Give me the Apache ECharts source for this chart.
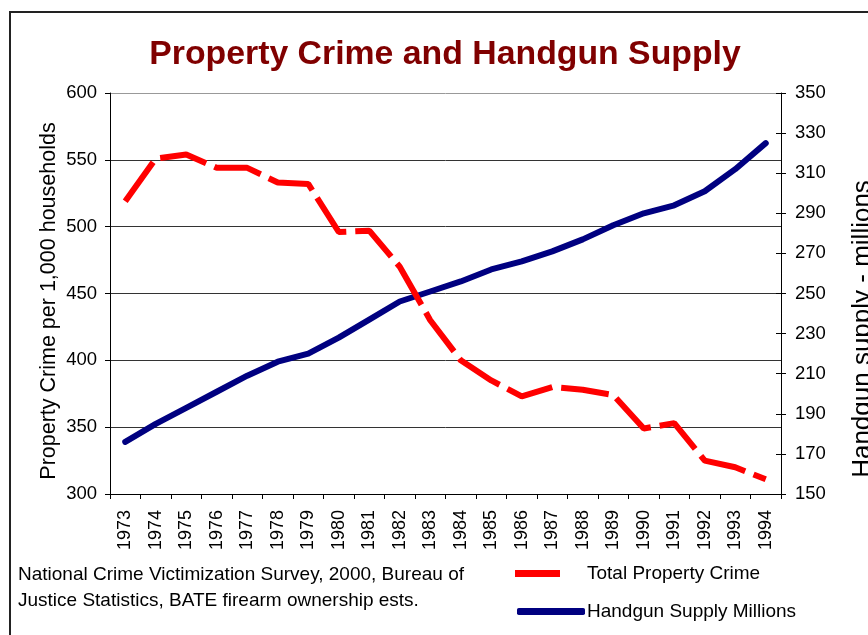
<!DOCTYPE html>
<html>
<head>
<meta charset="utf-8">
<script src="https://cdn.jsdelivr.net/npm/echarts@6/dist/echarts.min.js"></script>
<style>
html,body{margin:0;padding:0;background:#fff;}
#chart{width:868px;height:635px;}
</style>
</head>
<body>
<div id="chart"></div>
<script>
var years = ['1973','1974','1975','1976','1977','1978','1979','1980','1981','1982','1983','1984','1985','1986','1987','1988','1989','1990','1991','1992','1993','1994'];
var propertyCrime = [519, 551, 554, 544, 544, 533, 532, 496, 497, 470, 430, 400, 385, 373, 380, 378, 374, 349, 353, 325, 320, 311];
var handgunSupply = [176, 185, 193, 201, 209, 216, 220, 228, 237, 246, 251, 256, 262, 266, 271, 277, 284, 290, 294, 301, 312, 325];
var seriesNames = ['Total Property Crime', 'Handgun Supply Millions'];
var titleText = 'Property Crime and Handgun Supply';
var leftAxisName = 'Property Crime per 1,000 households';
var rightAxisName = 'Handgun supply - millions';
var sourceNote = 'National Crime Victimization Survey, 2000, Bureau of\nJustice Statistics, BATE firearm ownership ests.';

var FONT = 'Liberation Sans, Arial, sans-serif';
var chart = echarts.init(document.getElementById('chart'), null, {renderer: 'canvas'});
var option = {
  backgroundColor: '#fff',
  animation: false,
  textStyle: {fontFamily: FONT},
  title: {
    text: titleText,
    left: 440,
    textAlign: 'center',
    top: 33,
    textStyle: {fontFamily: FONT, fontSize: 33.8, fontWeight: 'bold', color: '#800000'}
  },
  grid: {left: 110, right: 87, top: 93, bottom: 141, containLabel: false},
  legend: [
    {
      data: [seriesNames[0]],
      left: 515, top: 564, padding: 0,
      icon: 'rect', itemWidth: 45, itemHeight: 7,
      textStyle: {fontFamily: FONT, fontSize: 19, color: '#000', padding: [0, 0, 0, 22]}
    },
    {
      data: [seriesNames[1]],
      left: 517, top: 602, padding: 0,
      icon: 'roundRect', itemWidth: 68, itemHeight: 7,
      textStyle: {fontFamily: FONT, fontSize: 19, color: '#000', padding: [0, 0, 0, -3]}
    }
  ],
  xAxis: {
    type: 'category',
    data: years,
    boundaryGap: true,
    axisLine: {lineStyle: {color: '#000', width: 1}},
    axisTick: {show: true, length: 5, alignWithLabel: false, lineStyle: {color: '#000'}},
    axisLabel: {rotate: 90, margin: 16, fontSize: 18, color: '#000', fontFamily: FONT, interval: 0}
  },
  yAxis: [
    {
      type: 'value', min: 300, max: 600, interval: 50, position: 'left',
      axisLine: {show: true, lineStyle: {color: '#000', width: 1}},
      axisTick: {show: true, length: 5, lineStyle: {color: '#000'}},
      axisLabel: {margin: 13, fontSize: 18.5, color: '#000', fontFamily: FONT},
      splitLine: {show: true, lineStyle: {color: ['#333', '#333', '#333', '#333', '#333', '#333', '#999'], width: 1}}
    },
    {
      type: 'value', min: 150, max: 350, interval: 20, position: 'right',
      axisLine: {show: true, lineStyle: {color: '#000', width: 1}},
      axisTick: {show: true, length: 5, lineStyle: {color: '#000'}},
      axisLabel: {margin: 14, fontSize: 18.5, color: '#000', fontFamily: FONT},
      splitLine: {show: false}
    },
    {
      type: 'value', min: 150, max: 350, interval: 20, position: 'right',
      axisLine: {show: false},
      axisTick: {show: true, inside: true, length: 5, lineStyle: {color: '#000'}},
      axisLabel: {show: false},
      splitLine: {show: false}
    }
  ],
  series: [
    {
      name: seriesNames[0], type: 'line', yAxisIndex: 0, data: propertyCrime,
      showSymbol: false, symbol: 'none', z: 5,
      itemStyle: {color: '#ff0000'},
      lineStyle: {color: '#ff0000', width: 6, type: [48, 9], cap: 'butt'}
    },
    {
      name: seriesNames[1], type: 'line', yAxisIndex: 1, data: handgunSupply,
      showSymbol: false, symbol: 'none', z: 3,
      itemStyle: {color: '#000080'},
      lineStyle: {color: '#000080', width: 6, cap: 'round', join: 'round'}
    }
  ],
  graphic: [
    {
      type: 'rect', silent: true, z: -1,
      shape: {x: 10, y: 12, width: 900, height: 700},
      style: {fill: 'none', stroke: '#222', lineWidth: 2}
    },
    {
      type: 'text', x: 49.5, y: 301, rotation: Math.PI / 2,
      style: {text: leftAxisName, fontFamily: FONT, fontSize: 21.5, fill: '#000', align: 'center', verticalAlign: 'middle'}
    },
    {
      type: 'text', x: 863, y: 329, rotation: Math.PI / 2,
      style: {text: rightAxisName, fontFamily: FONT, fontSize: 26, fill: '#000', align: 'center', verticalAlign: 'middle'}
    },
    {
      type: 'text', x: 18, y: 562,
      style: {text: sourceNote, fontFamily: FONT, fontSize: 19, lineHeight: 26, fill: '#000', align: 'left', verticalAlign: 'top'}
    }
  ]
};
chart.setOption(option);
</script>
</body>
</html>
